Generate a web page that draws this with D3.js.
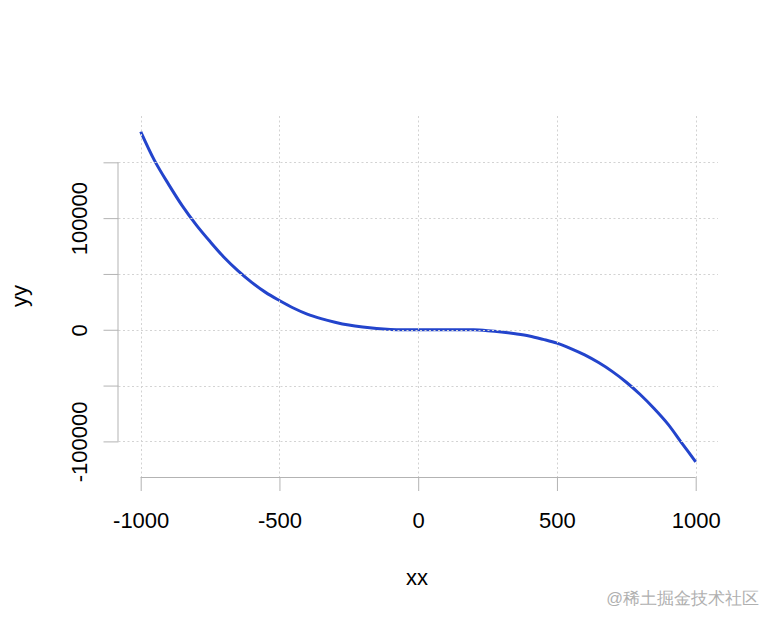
<!DOCTYPE html>
<html>
<head>
<meta charset="utf-8">
<script src="https://cdn.jsdelivr.net/npm/d3@7"></script>
<style>
  html, body { margin: 0; padding: 0; background: #fff; }
  svg { display: block; }
  text { font-family: "Liberation Sans", Arial, sans-serif; }
</style>
</head>
<body>
<svg id="chart" width="778" height="623"></svg>
<script>
// ---- data ----
const xx = [-1000, -950, -900, -850, -800, -750, -700, -650, -600, -550, -500,
            -450, -400, -350, -300, -250, -200, -150, -100, -50, 0,
            50, 100, 150, 200, 250, 300, 350, 400, 450, 500,
            550, 600, 650, 700, 750, 800, 850, 900, 950, 1000];
const yy = [177500, 151500, 130500, 111000, 94000, 79000, 65000, 53000, 42500, 33500, 26200,
            19500, 14000, 10000, 6800, 4200, 2400, 1100, 300, 0, 0,
            0, 0, 0, 0, -800, -2000, -3600, -5600, -8600, -12000,
            -16800, -22500, -29400, -37500, -47000, -58000, -70500, -84500, -101500, -118300];
const xTicks = [-1000, -500, 0, 500, 1000];
const xTickLabels = ["-1000", "-500", "0", "500", "1000"];
const yTicks = [-100000, -50000, 0, 50000, 100000, 150000];
const yTickLabels = ["-100000", "", "0", "", "100000", ""];
const xLabel = "xx";
const yLabel = "yy";
const watermark = "@稀土掘金技术社区";

// ---- layout ----
const svg = d3.select("#chart");
const pLeft = 118.5, pRight = 717.9, pTop = 116, pBottom = 477;
const x = d3.scaleLinear().domain([-1080, 1080]).range([pLeft, pRight]);
const y = d3.scaleLinear().domain([-131900, 191500]).range([pBottom, pTop]);
const axisColor = "#b3b3b3";
const gridColor = "#d3d3d3";

// curve
const pts = xx.map((v, i) => [v, yy[i]]);
svg.append("path")
  .datum(pts)
  .attr("fill", "none")
  .attr("stroke", "#2344cc")
  .attr("stroke-width", 3)
  .attr("stroke-linejoin", "round")
  .attr("d", d3.line().x(d => x(d[0])).y(d => y(d[1])).curve(d3.curveCatmullRom));

// grid (drawn on top, like R's grid())
const grid = svg.append("g").attr("stroke", gridColor).attr("stroke-width", 1)
  .attr("stroke-dasharray", "2,2.5");
grid.selectAll(".gx").data(xTicks).join("line")
  .attr("x1", d => Math.round(x(d)) + 0.5).attr("x2", d => Math.round(x(d)) + 0.5)
  .attr("y1", pTop).attr("y2", pBottom);
grid.selectAll(".gy").data(yTicks).join("line")
  .attr("y1", d => Math.round(y(d)) + 0.5).attr("y2", d => Math.round(y(d)) + 0.5)
  .attr("x1", pLeft).attr("x2", pRight);

// x axis
const gx = svg.append("g").attr("transform", `translate(0,${pBottom})`)
  .call(d3.axisBottom(x).tickValues(xTicks).tickSize(14).tickPadding(0)
        .tickFormat((d, i) => xTickLabels[i]));
gx.select(".domain").remove();
gx.selectAll(".tick line").attr("stroke", axisColor);
gx.selectAll(".tick text").attr("fill", "#000").attr("font-size", 22)
  .attr("y", 51).attr("dy", 0);
gx.append("line").attr("x1", x(xTicks[0])).attr("x2", x(xTicks[xTicks.length - 1]))
  .attr("y1", 0.5).attr("y2", 0.5).attr("stroke", axisColor);

// y axis
const gy = svg.append("g").attr("transform", `translate(${pLeft},0)`)
  .call(d3.axisLeft(y).tickValues(yTicks).tickSize(15).tickPadding(0)
        .tickFormat((d, i) => yTickLabels[i]));
gy.select(".domain").remove();
gy.selectAll(".tick line").attr("stroke", axisColor);
gy.selectAll(".tick text").attr("fill", "#000").attr("font-size", 22)
  .attr("x", 0).attr("dy", 0)
  .attr("text-anchor", "middle")
  .attr("transform", "translate(-32,0) rotate(-90)");
gy.append("line").attr("x1", -0.5).attr("x2", -0.5)
  .attr("y1", y(yTicks[0])).attr("y2", y(yTicks[yTicks.length - 1]))
  .attr("stroke", axisColor);

// axis titles
svg.append("text").attr("x", 417).attr("y", 585).attr("text-anchor", "middle")
  .attr("font-size", 22).attr("fill", "#000").text(xLabel);
svg.append("text").attr("transform", "translate(27,296) rotate(-90)")
  .attr("text-anchor", "middle").attr("font-size", 22).attr("fill", "#000").text(yLabel);

// watermark
svg.append("text").attr("x", 759).attr("y", 604).attr("text-anchor", "end")
  .attr("font-size", 16.5).attr("fill", "#b0b0b0")
  .attr("font-family", "'Noto Sans CJK SC', sans-serif").text(watermark);
</script>
</body>
</html>
